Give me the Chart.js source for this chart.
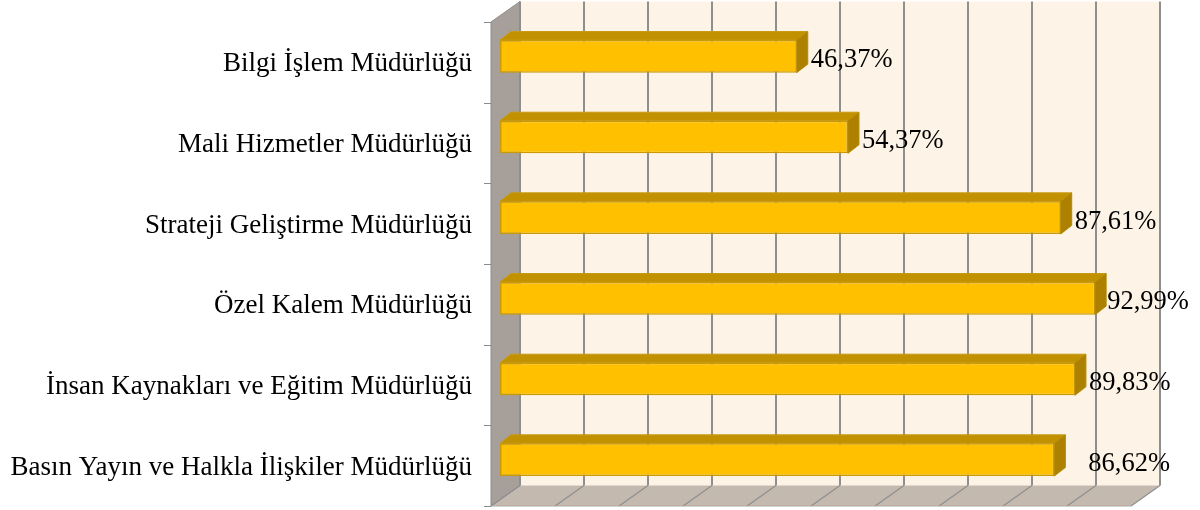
<!DOCTYPE html>
<html>
<head>
<meta charset="utf-8">
<script src="https://cdn.jsdelivr.net/npm/chart.js@4.4.1/dist/chart.umd.min.js"></script>
<style>
  html, body { margin: 0; padding: 0; background: #ffffff; }
  #wrap { width: 1200px; height: 510px; position: relative; }
</style>
</head>
<body>
<div id="wrap"><canvas id="c"></canvas></div>
<script>
const categories = [
  "Bilgi İşlem Müdürlüğü",
  "Mali Hizmetler Müdürlüğü",
  "Strateji Geliştirme Müdürlüğü",
  "Özel Kalem Müdürlüğü",
  "İnsan Kaynakları ve Eğitim Müdürlüğü",
  "Basın Yayın ve Halkla İlişkiler Müdürlüğü"
];
const values = [46.37, 54.37, 87.61, 92.99, 89.83, 86.62];
const axisMin = 0;
const axisMax = 100;
const axisStep = 10;

function fmt(v) { return v.toFixed(2).replace('.', ',') + '%'; }

const box3d = {
  id: 'box3d',
  beforeDatasetsDraw(chart, args, opts) {
    const ctx = chart.ctx;
    const a = chart.chartArea;
    const xs = chart.scales.x;
    const f = opts.front, b = opts.back;
    ctx.save();
    // back wall
    ctx.fillStyle = '#FDF3E6';
    ctx.fillRect(a.left + b.dx, a.top + b.dy, a.right - a.left, a.bottom - a.top);
    // floor
    ctx.beginPath();
    ctx.moveTo(a.left + f.dx, a.bottom + f.dy);
    ctx.lineTo(a.right + f.dx, a.bottom + f.dy);
    ctx.lineTo(a.right + b.dx, a.bottom + b.dy);
    ctx.lineTo(a.left + b.dx, a.bottom + b.dy);
    ctx.closePath();
    ctx.fillStyle = '#C3B9AF';
    ctx.fill();
    // left wall
    ctx.beginPath();
    ctx.moveTo(a.left + f.dx, a.top + f.dy);
    ctx.lineTo(a.left + b.dx, a.top + b.dy);
    ctx.lineTo(a.left + b.dx, a.bottom + b.dy);
    ctx.lineTo(a.left + f.dx, a.bottom + f.dy);
    ctx.closePath();
    ctx.fillStyle = '#A79F99';
    ctx.fill();
    ctx.strokeStyle = '#8C8C8C';
    ctx.lineWidth = 1;
    ctx.stroke();
    // gridlines on back wall and floor
    ctx.strokeStyle = '#8E8E8E';
    for (let v = axisMin; v <= axisMax; v += axisStep) {
      const x = xs.getPixelForValue(v);
      ctx.lineWidth = 2;
      ctx.beginPath();
      ctx.moveTo(x + b.dx, a.top + b.dy);
      ctx.lineTo(x + b.dx, a.bottom + b.dy);
      ctx.stroke();
      ctx.lineWidth = 1.2;
      ctx.beginPath();
      ctx.moveTo(x + b.dx, a.bottom + b.dy);
      ctx.lineTo(x + f.dx, a.bottom + f.dy);
      ctx.stroke();
    }
    // floor front edge
    ctx.strokeStyle = '#B0A79E';
    ctx.lineWidth = 1;
    ctx.beginPath();
    ctx.moveTo(a.left + f.dx, a.bottom + f.dy);
    ctx.lineTo(a.right + f.dx, a.bottom + f.dy);
    ctx.stroke();
    // category tick marks on left wall front edge
    const n = categories.length;
    const band = (a.bottom - a.top) / n;
    ctx.strokeStyle = '#8C8C8C';
    ctx.lineWidth = 1;
    for (let i = 0; i <= n; i++) {
      const y = Math.round(a.top + i * band + f.dy) + 0.5;
      ctx.beginPath();
      ctx.moveTo(a.left + f.dx - 7, y);
      ctx.lineTo(a.left + f.dx, y);
      ctx.stroke();
    }
    ctx.restore();
  },
  afterDatasetsDraw(chart, args, opts) {
    const ctx = chart.ctx;
    const d = opts.bar;
    const meta = chart.getDatasetMeta(0);
    ctx.save();
    meta.data.forEach((el, i) => {
      const p = el.getProps(['x', 'y', 'base', 'height'], true);
      const x0 = p.base, x1 = p.x;
      const yT = p.y - p.height / 2, yB = p.y + p.height / 2;
      // top face
      ctx.beginPath();
      ctx.moveTo(x0, yT);
      ctx.lineTo(x0 + d.dx, yT + d.dy);
      ctx.lineTo(x1 + d.dx, yT + d.dy);
      ctx.lineTo(x1, yT);
      ctx.closePath();
      ctx.fillStyle = '#C29100';
      ctx.fill();
      ctx.strokeStyle = '#C79A10';
      ctx.lineWidth = 1;
      ctx.stroke();
      // side face
      ctx.beginPath();
      ctx.moveTo(x1, yT);
      ctx.lineTo(x1 + d.dx, yT + d.dy);
      ctx.lineTo(x1 + d.dx, yB + d.dy);
      ctx.lineTo(x1, yB);
      ctx.closePath();
      ctx.fillStyle = '#AD8000';
      ctx.fill();
      ctx.strokeStyle = '#B58A05';
      ctx.stroke();
    });
    // value labels
    ctx.fillStyle = '#000000';
    ctx.font = opts.labelFont;
    ctx.textAlign = 'left';
    ctx.textBaseline = 'middle';
    meta.data.forEach((el, i) => {
      const p = el.getProps(['x', 'y'], true);
      const off = opts.labelOffsets[i];
      ctx.fillText(fmt(values[i]), p.x + off, p.y + 4);
    });
    ctx.restore();
  }
};

new Chart(document.getElementById('c'), {
  type: 'bar',
  data: {
    labels: categories,
    datasets: [{
      data: values,
      backgroundColor: '#FFC000',
      borderColor: '#C99A06',
      borderWidth: 1.5,
      borderSkipped: false,
      categoryPercentage: 1,
      barPercentage: 0.404
    }]
  },
  options: {
    indexAxis: 'y',
    responsive: true,
    maintainAspectRatio: false,
    animation: false,
    layout: { padding: { top: 16, right: 60, bottom: 10, left: 0 } },
    plugins: {
      legend: { display: false },
      tooltip: { enabled: false },
      box3d: {
        front: { dx: -9, dy: 6 },
        back: { dx: 20, dy: -14.5 },
        bar: { dx: 11, dy: -8.5 },
        labelFont: '26.5px "Liberation Serif", "Times New Roman", serif',
        labelOffsets: [14, 14, 14, 12, 14, 34]
      }
    },
    scales: {
      x: { type: 'linear', min: axisMin, max: axisMax, display: false },
      y: {
        grid: { display: false, drawTicks: false },
        border: { display: false },
        afterFit(scale) {
          scale.width = 500;
          scale.paddingTop = 0;
          scale.paddingBottom = 0;
        },
        ticks: {
          color: '#000000',
          padding: 28,
          labelOffset: 8,
          font: { family: '"Liberation Serif", "Times New Roman", serif', size: 27 }
        }
      }
    }
  },
  plugins: [box3d]
});
</script>
</body>
</html>
